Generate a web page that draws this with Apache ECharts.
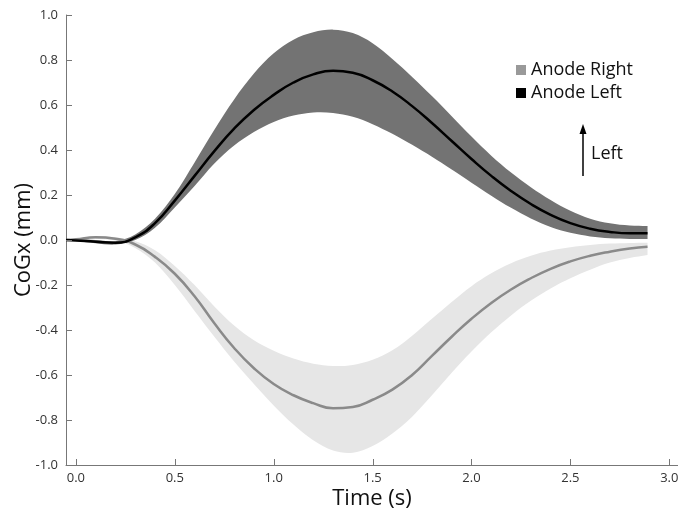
<!DOCTYPE html>
<html>
<head>
<meta charset="utf-8">
<script src="https://cdn.jsdelivr.net/npm/echarts@6/dist/echarts.min.js"></script>
<style>html,body{margin:0;padding:0;background:#fff}#c{width:678px;height:516px}</style>
</head>
<body>
<div id="c"></div>
<script>
var times = [-0.05, 0.0, 0.1, 0.2, 0.3, 0.4, 0.5, 0.6, 0.7, 0.8, 0.9, 1.0, 1.1, 1.2, 1.3, 1.4, 1.5, 1.6, 1.7, 1.8, 1.9, 2.0, 2.1, 2.2, 2.3, 2.4, 2.5, 2.6, 2.7, 2.8, 2.89];
var leftMean  = [0, -0.002, -0.008, -0.012, 0.012, 0.075, 0.175, 0.285, 0.395, 0.495, 0.578, 0.645, 0.70, 0.736, 0.752, 0.743, 0.71, 0.66, 0.595, 0.52, 0.44, 0.36, 0.285, 0.218, 0.16, 0.112, 0.075, 0.05, 0.036, 0.03, 0.03];
var leftUpper = [0, 0.002, 0.0, -0.005, 0.025, 0.095, 0.205, 0.345, 0.49, 0.625, 0.74, 0.83, 0.89, 0.923, 0.935, 0.92, 0.875, 0.805, 0.725, 0.64, 0.55, 0.46, 0.375, 0.30, 0.235, 0.178, 0.13, 0.095, 0.074, 0.064, 0.062];
var leftLower = [0, -0.004, -0.014, -0.02, 0.0, 0.055, 0.145, 0.24, 0.34, 0.42, 0.48, 0.525, 0.553, 0.567, 0.565, 0.548, 0.515, 0.472, 0.423, 0.37, 0.313, 0.255, 0.197, 0.143, 0.096, 0.058, 0.032, 0.016, 0.008, 0.005, 0.005];
var rightMean  = [0, 0.003, 0.012, 0.006, -0.02, -0.075, -0.15, -0.25, -0.37, -0.48, -0.57, -0.64, -0.69, -0.725, -0.748, -0.742, -0.71, -0.665, -0.60, -0.515, -0.43, -0.35, -0.28, -0.22, -0.17, -0.128, -0.095, -0.07, -0.052, -0.038, -0.03];
var rightUpper = [0, 0.005, 0.018, 0.012, -0.005, -0.045, -0.115, -0.2, -0.295, -0.38, -0.445, -0.492, -0.527, -0.55, -0.56, -0.555, -0.532, -0.49, -0.425, -0.35, -0.275, -0.205, -0.148, -0.103, -0.07, -0.047, -0.032, -0.022, -0.016, -0.013, -0.012];
var rightLower = [0, 0.0, 0.005, -0.002, -0.035, -0.1, -0.2, -0.315, -0.43, -0.54, -0.64, -0.735, -0.82, -0.89, -0.935, -0.945, -0.915, -0.86, -0.785, -0.69, -0.59, -0.495, -0.41, -0.335, -0.27, -0.215, -0.17, -0.132, -0.1, -0.08, -0.067];
var xTicks = [0, 0.5, 1.0, 1.5, 2.0, 2.5, 3.0];
var yTicks = [-1.0, -0.8, -0.6, -0.4, -0.2, 0.0, 0.2, 0.4, 0.6, 0.8, 1.0];
var legendNames = ['Anode Right', 'Anode Left'];
var X_MIN = -0.05, X_MAX = 3.044, Y_MIN = -1, Y_MAX = 1;

function pairs(arr) { return times.map(function (t, i) { return [t, arr[i]]; }); }
function triples(up, lo) { return times.map(function (t, i) { return [t, up[i], lo[i]]; }); }

function bandRenderer(up, lo, color) {
  return function (params, api) {
    if (params.dataIndex !== 0) return null;
    var pts = [];
    var n = times.length, i;
    for (i = 0; i < n; i++) {
      var p = api.coord([times[i], up[i]]);
      pts.push(p);
      if (i === 0 || i === n - 1) pts.push(p.slice());
    }
    for (i = n - 1; i >= 0; i--) {
      var q = api.coord([times[i], lo[i]]);
      pts.push(q);
      if (i === 0 || i === n - 1) pts.push(q.slice());
    }
    return {
      type: 'polygon',
      shape: {points: pts, smooth: 0.35},
      style: {fill: color, stroke: null}
    };
  };
}

var TICK_LEN = 6, TICK_COLOR = '#777';
function xTickRenderer(params, api) {
  var p = api.coord([api.value(0), Y_MIN]);
  return {type: 'line', shape: {x1: Math.round(p[0]) + 0.5, y1: p[1], x2: Math.round(p[0]) + 0.5, y2: p[1] - TICK_LEN}, style: {stroke: TICK_COLOR, lineWidth: 1}};
}
function yTickRenderer(params, api) {
  var p = api.coord([X_MIN, api.value(1)]);
  return {type: 'line', shape: {x1: p[0], y1: Math.round(p[1]) + 0.5, x2: p[0] + TICK_LEN, y2: Math.round(p[1]) + 0.5}, style: {stroke: TICK_COLOR, lineWidth: 1}};
}

var FONT = '"Open Sans", "Noto Sans", sans-serif';
var chart = echarts.init(document.getElementById('c'), null, {renderer: 'canvas'});
chart.setOption({
  animation: false,
  backgroundColor: '#fff',
  textStyle: {fontFamily: FONT},
  grid: {left: 66, right: 0, top: 15, bottom: 51, containLabel: false, outerBoundsMode: 'none'},
  legend: {
    orient: 'vertical', left: 511, top: 56, itemWidth: 10, itemHeight: 10, itemGap: 5,
    icon: 'rect',
    textStyle: {fontSize: 18, color: '#111', fontFamily: FONT},
    data: [
      {name: legendNames[0], itemStyle: {color: '#999999'}},
      {name: legendNames[1], itemStyle: {color: '#000000'}}
    ]
  },
  xAxis: {
    type: 'value', min: X_MIN, max: X_MAX,
    name: 'Time (s)', nameLocation: 'middle', nameGap: 23, nameMoveOverlap: false,
    nameTextStyle: {fontSize: 22, color: '#111', fontFamily: FONT},
    axisLine: {show: true, onZero: false, lineStyle: {color: '#777', width: 1}},
    axisTick: {show: false},
    axisLabel: {customValues: xTicks, fontSize: 13, color: '#333', margin: 7, formatter: function (v) { return v.toFixed(1); }},
    splitLine: {show: false}
  },
  yAxis: {
    type: 'value', min: Y_MIN, max: Y_MAX,
    name: 'CoGx (mm)', nameLocation: 'middle', nameGap: 31, nameMoveOverlap: false,
    nameTextStyle: {fontSize: 22, color: '#111', fontFamily: FONT},
    axisLine: {show: true, onZero: false, lineStyle: {color: '#777', width: 1}},
    axisTick: {show: false},
    axisLabel: {customValues: yTicks, fontSize: 13, color: '#333', margin: 8, formatter: function (v) { return v.toFixed(1); }},
    splitLine: {show: false}
  },
  series: [
    {name: 'rBand', type: 'custom', renderItem: bandRenderer(rightUpper, rightLower, '#e6e6e6'), encode: {x: 0, y: [1, 2]}, data: triples(rightUpper, rightLower), z: 1, silent: true},
    {name: 'lBand', type: 'custom', renderItem: bandRenderer(leftUpper, leftLower, '#737373'), encode: {x: 0, y: [1, 2]}, data: triples(leftUpper, leftLower), z: 2, silent: true},
    {name: legendNames[0], type: 'line', smooth: true, showSymbol: false, lineStyle: {color: '#8a8a8a', width: 2.5}, itemStyle: {color: '#999999'}, data: pairs(rightMean), z: 3},
    {name: legendNames[1], type: 'line', smooth: true, showSymbol: false, lineStyle: {color: '#000', width: 2.5}, itemStyle: {color: '#000'}, data: pairs(leftMean), z: 4},
    {name: 'xTickMarks', type: 'custom', renderItem: xTickRenderer, clip: false, silent: true, z: 5, encode: {x: 0, y: 1}, data: xTicks.map(function (v) { return [v, Y_MIN]; })},
    {name: 'yTickMarks', type: 'custom', renderItem: yTickRenderer, clip: false, silent: true, z: 5, encode: {x: 0, y: 1}, data: yTicks.map(function (v) { return [X_MIN, v]; })}
  ],
  graphic: [
    {type: 'line', shape: {x1: 583, y1: 176, x2: 583, y2: 132}, style: {stroke: '#000', lineWidth: 1.5}},
    {type: 'polygon', shape: {points: [[583, 124], [579.5, 134], [586.5, 134]]}, style: {fill: '#000'}},
    {type: 'text', left: 591, top: 145, style: {text: 'Left', fontSize: 18, fill: '#111', fontFamily: FONT}}
  ]
});
</script>
</body>
</html>
